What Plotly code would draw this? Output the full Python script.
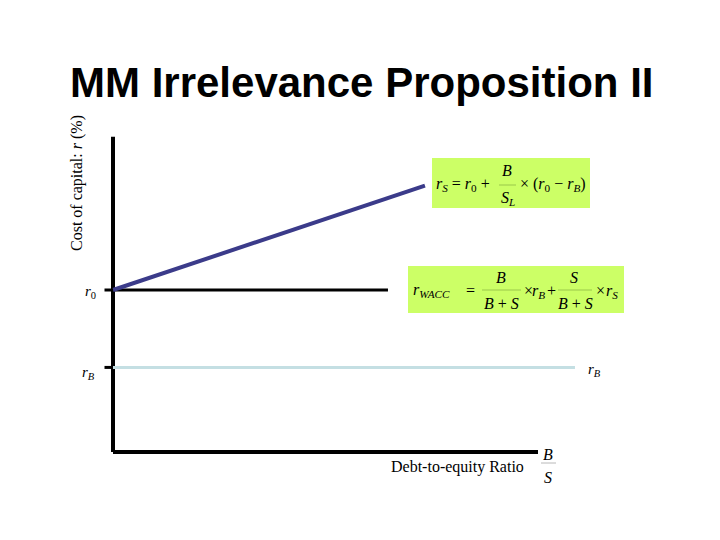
import plotly.graph_objects as go

# ---- data (illustrative values) ----
debt_equity_rs = [0.0, 0.734]      # r_S line (debt-to-equity ratio)
rs_values = [10.0, 16.6]           # cost of equity r_S
debt_equity_r0 = [0.0, 0.647]
r0_values = [10.0, 10.0]           # r_0 (= r_WACC)
debt_equity_rb = [0.0, 1.087]
rb_values = [5.1, 5.1]             # r_B
axis_x = [0.0, 0.0, 1.0]           # drawn axes
axis_y = [19.7, -0.25, -0.25]

W, H = 720, 540
OFF = 8  # page body margin shifts the figure
SERIF = "Liberation Serif, Times New Roman, serif"

fig = go.Figure()

# axes
fig.add_trace(go.Scatter(x=axis_x[:2], y=axis_y[:2], mode="lines",
                         line=dict(color="black", width=4), hoverinfo="skip"))
fig.add_trace(go.Scatter(x=axis_x[1:], y=axis_y[1:], mode="lines",
                         line=dict(color="black", width=4), hoverinfo="skip"))
# r0 line
fig.add_trace(go.Scatter(x=debt_equity_r0, y=r0_values, mode="lines",
                         line=dict(color="black", width=3), hoverinfo="skip"))
# rB line
fig.add_trace(go.Scatter(x=debt_equity_rb, y=rb_values, mode="lines",
                         line=dict(color="#c4dfe3", width=3), hoverinfo="skip"))
# rS line
fig.add_trace(go.Scatter(x=debt_equity_rs, y=rs_values, mode="lines",
                         line=dict(color="#3b3b8a", width=4), hoverinfo="skip"))

# small ticks to the left of the axis
fig.add_trace(go.Scatter(x=[-0.02, 0.0], y=[r0_values[0]] * 2, mode="lines",
                         line=dict(color="black", width=3), hoverinfo="skip"))
fig.add_trace(go.Scatter(x=[-0.02, 0.0], y=[rb_values[0]] * 2, mode="lines",
                         line=dict(color="black", width=3), hoverinfo="skip"))

# mapping: x=0 -> px 113, x=1 -> px 538 ; y=0 -> px 448, 15.8 px per unit
x0px, xs = 113 - OFF, 425.0
y0px, ys = 448 - OFF, 15.8
xr = [(0 - x0px) / xs, (W - x0px) / xs]
yr = [(y0px - H) / ys, y0px / ys]


def P(px, py):
    return (px - OFF) / W, 1 - (py - OFF) / H


annots = []
shapes = []


def txt(px, py, text, size=16, xanchor="center", family=SERIF, **kw):
    x, y = P(px, py)
    annots.append(dict(x=x, y=y, xref="paper", yref="paper", text=text,
                       showarrow=False, xanchor=xanchor, yanchor="middle",
                       font=dict(family=family, size=size, color="black"), **kw))


def hline(x1, x2, py, width=1, color="#b8b8b8"):
    a, b = P(x1, py)
    c, _ = P(x2, py)
    shapes.append(dict(type="line", xref="paper", yref="paper", x0=a, x1=c,
                       y0=b, y1=b, line=dict(color=color, width=width)))


def box(x1, y1, x2, y2):
    a, b = P(x1, y1)
    c, d = P(x2, y2)
    shapes.append(dict(type="rect", xref="paper", yref="paper", x0=a, x1=c,
                       y0=d, y1=b, fillcolor="#ccff66", line=dict(width=0),
                       layer="below"))


# title
txt(361, 83, "<b>MM Irrelevance Proposition II</b>", size=42,
    family="Liberation Sans, Arial, sans-serif")
# y-axis label
txt(77, 183, "Cost of capital: <i>r</i> (%)", size=16, textangle=-90)
# left labels
txt(90, 292, "<i>r</i><sub>0</sub>", size=15)
txt(88, 373, "<i>r</i><sub><i>B</i></sub>", size=15)
txt(594, 370, "<i>r</i><sub><i>B</i></sub>", size=15)
# x label
txt(457, 467, "Debt-to-equity Ratio", size=16)
txt(548, 455, "<i>B</i>", size=16)
hline(541, 556, 463)
txt(548, 477, "<i>S</i>", size=16)

FS = 16
# formula box 1
box(432, 158, 590, 208)
txt(434, 185, "<i>r<sub>S</sub></i> = <i>r</i><sub>0</sub> +", size=FS, xanchor="left")
txt(507, 171, "<i>B</i>", size=FS)
hline(499, 516, 185, color="#9ac84a")
txt(508, 199, "<i>S<sub>L</sub></i>", size=FS)
txt(518, 185, "× (<i>r</i><sub>0</sub> − <i>r<sub>B</sub></i>)", size=FS, xanchor="left")

# formula box 2
box(408, 266, 624, 313)
txt(411, 290, "<i>r<sub>WACC</sub></i>", size=FS, xanchor="left")
txt(470, 290, "=", size=FS)
txt(501, 277, "<i>B</i>", size=FS)
hline(482, 521, 290, color="#9ac84a")
txt(501, 303, "<i>B</i> + <i>S</i>", size=FS)
txt(528, 290, "×", size=FS)
txt(538, 291, "<i>r<sub>B</sub></i>", size=FS)
txt(551, 290, "+", size=FS)
txt(574, 277, "<i>S</i>", size=FS)
hline(558, 592, 290, color="#9ac84a")
txt(575, 303, "<i>B</i> + <i>S</i>", size=FS)
txt(600, 290, "×", size=FS)
txt(612, 291, "<i>r<sub>S</sub></i>", size=FS)

fig.update_layout(
    width=W, height=H, margin=dict(l=0, r=0, t=0, b=0),
    paper_bgcolor="white", plot_bgcolor="white", showlegend=False,
    xaxis=dict(range=xr, visible=False, fixedrange=True),
    yaxis=dict(range=yr, visible=False, fixedrange=True),
    annotations=annots, shapes=shapes,
)

fig.write_html("out.html")
